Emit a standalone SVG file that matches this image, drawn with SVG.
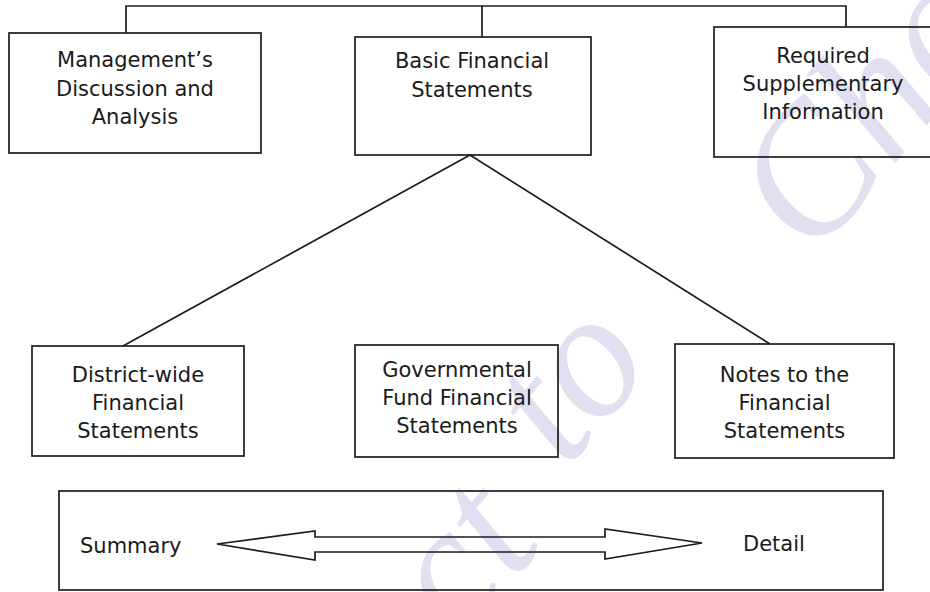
<svg xmlns="http://www.w3.org/2000/svg" width="930" height="592" viewBox="0 0 930 592">
  <style>
    .box { fill: none; stroke: #1c1c1c; stroke-width: 1.7; }
    .wire { fill: none; stroke: #1c1c1c; stroke-width: 1.7; }
    .label { font-family: "DejaVu Sans", "Liberation Sans", sans-serif; font-size: 21px; fill: #1a1a1a; text-anchor: middle; }
    .side { font-family: "DejaVu Sans", "Liberation Sans", sans-serif; font-size: 21px; fill: #1a1a1a; }
    .mark { font-family: "Liberation Serif", serif; font-style: italic; font-size: 180px; fill: #e0e0f1; }
  </style>
  <rect x="0" y="0" width="930" height="592" fill="#ffffff"/>

  <!-- background watermark -->
  <g id="watermark" transform="translate(566,470) rotate(-50)">
    <text class="mark"><tspan x="-600" y="31">Subject</tspan><tspan x="0" y="0">to</tspan><tspan x="320" y="55">Change</tspan></text>
  </g>

  <!-- connectors -->
  <g id="connectors">
    <path class="wire" d="M126,33 V6 H846 V27"/>
    <path class="wire" d="M482,6 V37"/>
    <path class="wire" d="M123,346 L470,155 L770,344"/>
  </g>

  <g id="mdna">
    <rect class="box" x="9" y="33" width="252" height="120"/>
    <text class="label"><tspan x="135" y="67">Management’s</tspan><tspan x="135" y="95.5">Discussion and</tspan><tspan x="135" y="124">Analysis</tspan></text>
  </g>

  <g id="basic">
    <rect class="box" x="355" y="37" width="236" height="118"/>
    <text class="label"><tspan x="472" y="68">Basic Financial</tspan><tspan x="472" y="97">Statements</tspan></text>
  </g>

  <g id="rsi">
    <rect class="box" x="714" y="27" width="220" height="130"/>
    <text class="label"><tspan x="823" y="63">Required</tspan><tspan x="823" y="91">Supplementary</tspan><tspan x="823" y="119">Information</tspan></text>
  </g>

  <g id="districtwide">
    <rect class="box" x="32" y="346" width="212" height="110"/>
    <text class="label"><tspan x="138" y="382">District-wide</tspan><tspan x="138" y="410">Financial</tspan><tspan x="138" y="438">Statements</tspan></text>
  </g>

  <g id="governmental">
    <rect class="box" x="355" y="345" width="203" height="112"/>
    <text class="label"><tspan x="457" y="377">Governmental</tspan><tspan x="457" y="405">Fund Financial</tspan><tspan x="457" y="433">Statements</tspan></text>
  </g>

  <g id="notes">
    <rect class="box" x="675" y="344" width="219" height="114"/>
    <text class="label"><tspan x="784.5" y="382">Notes to the</tspan><tspan x="784.5" y="410">Financial</tspan><tspan x="784.5" y="438">Statements</tspan></text>
  </g>

  <g id="scale">
    <rect class="box" x="59" y="491" width="824" height="99"/>
    <path class="wire" fill="#ffffff" d="M217,544 L315,531 L315,537 L605,537 L605,529 L702,543 L605,559 L605,552 L315,552 L315,560 Z"/>
    <text class="side" x="80" y="553">Summary</text>
    <text class="side" x="743" y="551">Detail</text>
  </g>
</svg>
